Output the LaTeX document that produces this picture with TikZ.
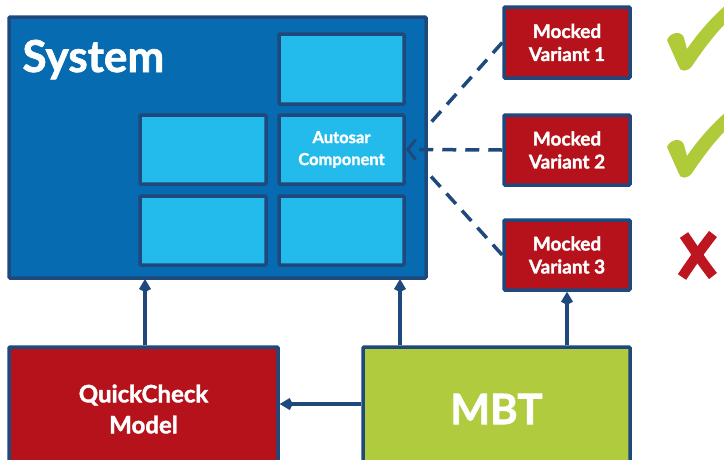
\documentclass[tikz,border=0pt]{standalone}
\usepackage{fontspec}
\setmainfont{Lato}[BoldFeatures={FakeBold=1.6}]
\usetikzlibrary{arrows.meta}
\definecolor{navy}{HTML}{1F497D}
\definecolor{sysblue}{HTML}{066BB0}
\definecolor{cyanbox}{HTML}{23BBEC}
\definecolor{boxred}{HTML}{B5121B}
\definecolor{boxgreen}{HTML}{B0CB3D}
\definecolor{checkgreen}{HTML}{AFCB3A}
\definecolor{crossred}{HTML}{BE1620}
\begin{document}
\begin{tikzpicture}[x=1pt,y=-1pt,
  frame/.style={draw=navy,line width=3.5pt,rounded corners=1pt},
  sysbox/.style={frame,fill=sysblue},
  cell/.style={frame,fill=cyanbox},
  redbox/.style={frame,fill=boxred},
  greenbox/.style={frame,fill=boxgreen},
  lbl/.style={text=white,font=\bfseries,align=center},
  conn/.style={draw=navy,line width=3.5pt,-{Kite[length=13pt,width=12pt,inset=3pt]}},
  mock/.style={draw=navy,line width=3.5pt,dash pattern=on 14pt off 9pt},
  mockarrow/.style={mock,-{Straight Barb[length=8pt,width=20pt,line width=3pt]}}]
\useasboundingbox (0,0) rectangle (724,459);
% system
\draw[sysbox] (9,17) rectangle (426,278);
\node (sys) at (9,17) {};
\node[lbl,anchor=base west,font=\bfseries\fontsize{44}{44}\selectfont] (systxt) at (19,72) {System};
\draw[cell] (279,34) rectangle (404,104);
\draw[cell] (140,115) rectangle (266,184);
\draw[cell] (140,196) rectangle (266,265);
\draw[cell] (279,196) rectangle (404,265);
\node[cell,minimum width=125pt,minimum height=69pt,inner sep=0pt,lbl,font=\bfseries\fontsize{16.5}{22}\selectfont] (auto) at (341.5,149.5) {Autosar\\Component};
% mocked variants
\node[redbox,minimum width=126pt,minimum height=71pt,inner sep=0pt,lbl,font=\bfseries\fontsize{19}{23}\selectfont] (v1) at (567,42.5) {Mocked\\Variant 1};
\node[redbox,minimum width=126pt,minimum height=70pt,inner sep=0pt,lbl,font=\bfseries\fontsize{19}{23}\selectfont] (v2) at (567,150) {Mocked\\Variant 2};
\node[redbox,minimum width=126pt,minimum height=70pt,inner sep=0pt,lbl,font=\bfseries\fontsize{19}{23}\selectfont] (v3) at (567,255) {Mocked\\Variant 3};
% dashed links
\coordinate (e1) at (426,128);
\coordinate (e3) at (427,172);
\draw[mock] (v1.west) -- (e1);
\draw[mock] (v3.west) -- (e3);
\draw[mockarrow] (v2.west) -- (auto.east);
% bottom boxes
\node[redbox,minimum width=269pt,minimum height=124pt,inner sep=0pt,lbl,font=\bfseries\fontsize{24}{31}\selectfont] (qc) at (143.5,409) {QuickCheck\\Model};
\node[greenbox,minimum width=267pt,minimum height=124pt,inner sep=0pt,lbl,font=\bfseries\fontsize{42}{42}\selectfont,text depth=0pt] (mbt) at (496.5,409) {MBT};
% arrows
\coordinate (s1) at (145,279);
\coordinate (s2) at (400,279);
\draw[conn] (qc.north -| s1) -- (s1);
\draw[conn] (mbt.north -| s2) -- (s2);
\draw[conn] (mbt.north -| v3.south) -- (v3.south);
\draw[conn] (mbt.west |- 0,404) -- (qc.east |- 0,404);
% checks and cross
\fill[checkgreen] (667,40) .. controls (671,31) and (682,31) .. (684,38) -- (687,49) .. controls (698,33) and (712,17) .. (726,5) -- (726,23) .. controls (712,37) and (701,53) .. (692,66) .. controls (688,72) and (680,72) .. (679,67) -- cycle;
\fill[checkgreen] (667,147) .. controls (671,138) and (682,138) .. (684,145) -- (687,156) .. controls (698,140) and (712,124) .. (726,112) -- (726,130) .. controls (712,144) and (701,160) .. (692,173) .. controls (688,179) and (680,179) .. (679,174) -- cycle;
\draw[crossred,line width=10pt] (684,235) .. controls (695,251) and (702,262) .. (713,276);
\draw[crossred,line width=10pt] (713,234) .. controls (702,248) and (692,262) .. (682,277);
\end{tikzpicture}
\end{document}
